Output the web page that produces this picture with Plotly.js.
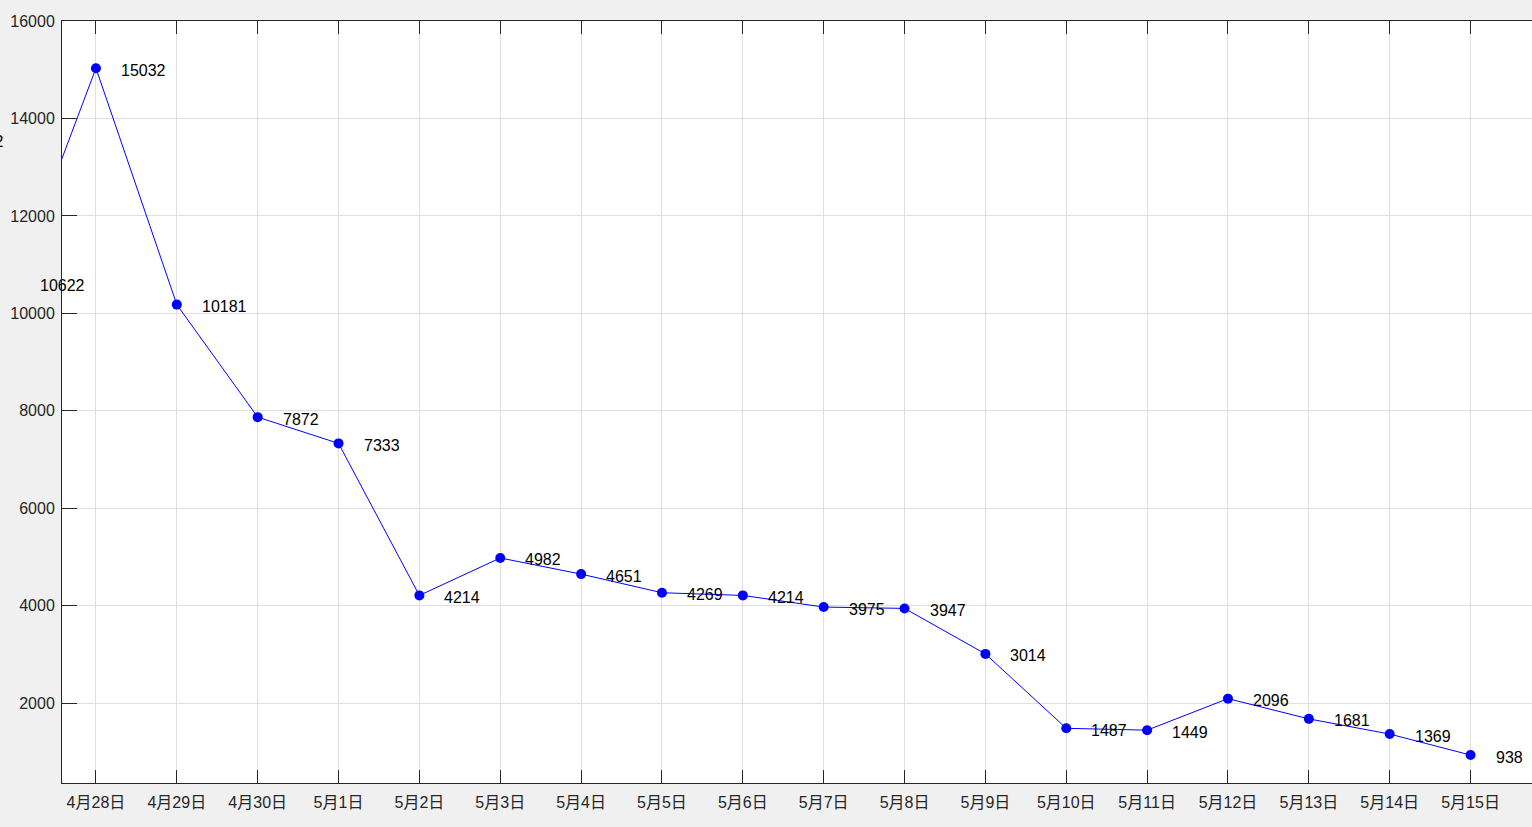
<!DOCTYPE html>
<html>
<head>
<meta charset="utf-8">
<script src="https://cdn.plot.ly/plotly-3.0.1.min.js"></script>
<style>html,body{margin:0;padding:0;background:#f0f0f0;}#chart{width:1532px;height:827px;}</style>
</head>
<body>
<div id="chart"></div>
<script>
const categories = ['4月26日','4月27日','4月28日','4月29日','4月30日','5月1日','5月2日','5月3日','5月4日','5月5日','5月6日','5月7日','5月8日','5月9日','5月10日','5月11日','5月12日','5月13日','5月14日','5月15日'];
const cases = [13562,10622,15032,10181,7872,7333,4214,4982,4651,4269,4214,3975,3947,3014,1487,1449,2096,1681,1369,938];
const yTicks = [2000,4000,6000,8000,10000,12000,14000,16000];

const xs = categories.map((_, i) => i);
const xRange = [1.58, 19.76];
const yRange = [365, 16000];
const labelShiftPx = 23;
const fontFam = 'Arial, "Liberation Sans", "Noto Sans CJK SC", sans-serif';
const labelFont = {family: fontFam, size: 16, color: '#000000'};

const traces = [
  {
    x: xs, y: cases, type: 'scatter', mode: 'lines+markers',
    line: {color: '#0000ff', width: 1},
    marker: {color: '#0000ff', size: 10},
    cliponaxis: true, hoverinfo: 'skip', showlegend: false
  }
];

// value labels to the right of each point; anchors left of the visible x range
// are referenced to paper so they are still drawn unclipped, as in the source
const annotations = xs.map((v, i) => {
  const visible = v >= xRange[0] && v <= xRange[1];
  return {
    xref: visible ? 'x' : 'paper', yref: 'y',
    x: visible ? v : (v - xRange[0]) / (xRange[1] - xRange[0]),
    y: cases[i], text: String(cases[i]), showarrow: false,
    xanchor: 'left', yanchor: 'middle', xshift: labelShiftPx, yshift: -2,
    font: labelFont
  };
});

const layout = {
  width: 1532, height: 827,
  paper_bgcolor: '#f0f0f0', plot_bgcolor: '#ffffff',
  margin: {l: 62, r: 0, t: 21, b: 44},
  font: {family: fontFam, size: 16, color: '#262626'},
  showlegend: false,
  annotations: annotations,
  xaxis: {
    range: xRange,
    tickmode: 'array', tickvals: xs, ticktext: categories,
    ticks: 'inside', ticklen: 13, tickcolor: '#262626', tickwidth: 1,
    showline: true, linecolor: '#262626', linewidth: 1, mirror: 'ticks',
    showgrid: true, gridcolor: '#dfdfdf', gridwidth: 1, zeroline: false,
    ticklabelstandoff: 5,
    tickfont: {family: fontFam, size: 16, color: '#262626'}
  },
  yaxis: {
    range: yRange,
    tickmode: 'array', tickvals: yTicks, ticktext: yTicks.map(String),
    ticks: 'inside', ticklen: 15, tickcolor: '#262626', tickwidth: 1,
    showline: true, linecolor: '#262626', linewidth: 1, mirror: false,
    showgrid: true, gridcolor: '#dfdfdf', gridwidth: 1, zeroline: false,
    ticklabelstandoff: 3,
    tickfont: {family: fontFam, size: 16, color: '#262626'}
  }
};

Plotly.newPlot('chart', traces, layout, {displayModeBar: false, staticPlot: true});
</script>
</body>
</html>
